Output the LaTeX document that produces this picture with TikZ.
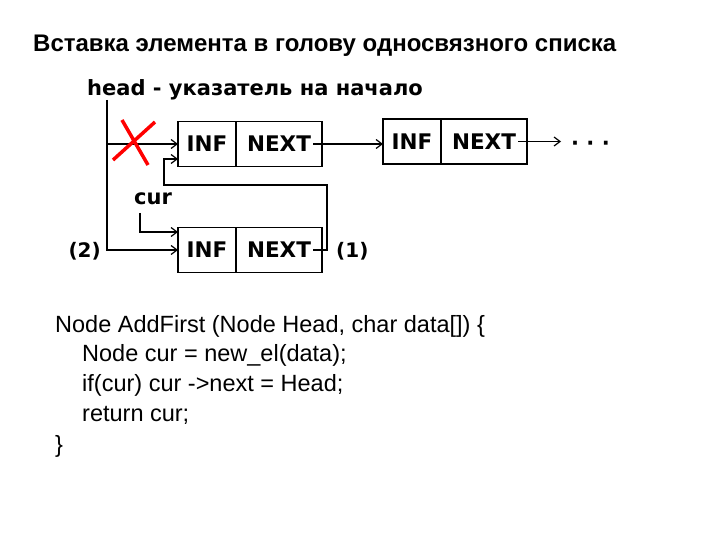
\documentclass[tikz,border=0pt]{standalone}
\usepackage{fontspec}
\setmainfont{Liberation Sans}
\newfontfamily\pixfont{DejaVu Sans}
\usetikzlibrary{arrows.meta, positioning, calc}

\tikzset{
  cell/.style={draw, line width=1.6pt, minimum height=45pt, inner sep=0pt,
               outer sep=0pt, font=\pixfont\bfseries\fontsize{21.5}{21.5}\selectfont},
  infcell/.style={cell, minimum width=58pt},
  nextcell/.style={cell, minimum width=86pt},
  ptr/.style={-{Straight Barb[length=6pt,width=9pt]}, line width=1.2pt},
  lbl/.style={font=\pixfont\bfseries\fontsize{21}{21}\selectfont, inner sep=0pt},
  codeline/.style={font=\fontsize{23.5}{23.5}\selectfont, anchor=base west, inner sep=0pt}
}

\begin{document}
\begin{tikzpicture}[x=1pt, y=-1pt]
  \useasboundingbox[fill=white] (0,0) rectangle (720,540);

  % Title
  \node[anchor=base west, inner sep=0pt, font=\bfseries\fontsize{24}{24}\selectfont]
    (title) at (33,52) {Вставка элемента в голову односвязного списка};

  % List cells
  \node[infcell] (inf1) at (207,144) {INF};
  \node[nextcell, right=0pt of inf1] (next1) {NEXT};
  \node[infcell] (inf2) at (412,141.5) {INF};
  \node[nextcell, right=0pt of inf2] (next2) {NEXT};
  \node[infcell] (inf3) at (207,250) {INF};
  \node[nextcell, right=0pt of inf3] (next3) {NEXT};

  % Labels
  \node[lbl, anchor=base west] (headlbl) at (87,96) {head - указатель на начало};
  \node[lbl, anchor=base west] (curlbl) at (134,205) {cur};
  \node[lbl, anchor=east, font=\pixfont\bfseries\fontsize{20}{20}\selectfont] (lbl2) at (101,251) {(2)};
  \node[lbl, anchor=west, font=\pixfont\bfseries\fontsize{20}{20}\selectfont] (lbl1) at (336,251) {(1)};

  % Pointer ends
  \coordinate (htop) at (107,100);
  \coordinate (ctop) at (140,213);
  \coordinate (p1) at ([xshift=-9pt]next1.east);
  \coordinate (p2) at ([xshift=-9pt]next2.east);
  \coordinate (p3) at ([xshift=-9pt]next3.east);
  \coordinate (tail) at ([xshift=34pt]next2.east);
  \coordinate (bend) at (164,185);
  \node[lbl, anchor=west] (more) at ([xshift=10pt,yshift=-4pt]tail) {· · ·};

  % Arrows
  \draw[ptr] (p1) -- (inf2.west |- p1);
  \draw[ptr] (p2) -- (tail);
  \draw[ptr] (htop |- inf1.west) -- (inf1.west);
  \draw[ptr] (htop) |- (inf3.west);
  \draw[ptr] (ctop) |- ([yshift=18pt]inf3.west);
  \draw[ptr] (p3) -- ++(14,0) |- (bend) |- ([yshift=-15pt]inf1.west);

  % Cross over the old link
  \draw[red, line width=3.5pt] (113,160) -- (155,122) (122,120) -- (148,165);

  % Code
  \node[codeline] (c1) at (55,332) {Node AddFirst (Node Head, char data[]) \{};
  \node[codeline] (c2) at (82,361) {Node cur = new\_el(data);};
  \node[codeline] (c3) at (82,391) {if(cur) cur ->next = Head;};
  \node[codeline] (c4) at (82,421) {return cur;};
  \node[codeline] (c5) at (55,452) {\}};
\end{tikzpicture}
\end{document}
